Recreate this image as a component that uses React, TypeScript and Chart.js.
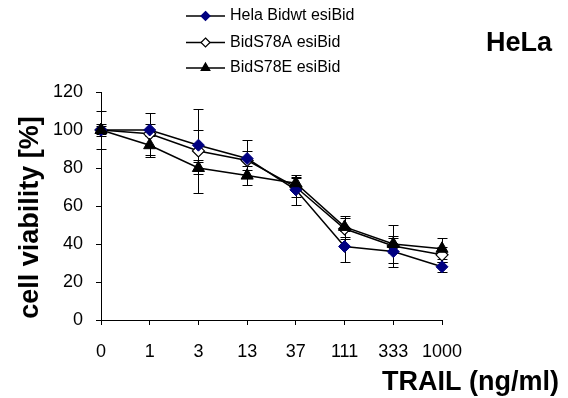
import React, { useEffect, useRef } from "react";
import { Chart, registerables } from "chart.js";

Chart.register(...registerables);

const categories = ["0", "1", "3", "13", "37", "111", "333", "1000"];
const helaMean = [100, 100, 92, 85, 68.5, 38.7, 36, 28];
const helaErr = [10, 3, 8, 9.5, 8, 8, 8, 2.5];
const s78aMean = [100, 98, 89, 84, 70, 48, 39, 34.3];
const s78aErr = [3, 11, 22, 5, 5, 5.5, 4, 4];
const s78eMean = [100, 92, 80, 76, 72, 49, 40, 37.5];
const s78eErr = [2, 6, 3, 5, 3.5, 5.5, 10, 5.5];
const seriesNames = ["Hela Bidwt esiBid", "BidS78A esiBid", "BidS78E esiBid"];
const yTicks = [0, 20, 40, 60, 80, 100, 120];

const FONT = "'Liberation Sans', Arial, Helvetica, sans-serif";

function drawMarker(ctx: CanvasRenderingContext2D, style: string, x: number, y: number, r: number, fill: string, stroke: string) {
  ctx.save();
  ctx.beginPath();
  if (style === "diamond") {
    ctx.moveTo(x, y - r);
    ctx.lineTo(x + r, y);
    ctx.lineTo(x, y + r);
    ctx.lineTo(x - r, y);
    ctx.closePath();
  } else {
    ctx.moveTo(x, y - r);
    ctx.lineTo(x + r * 0.866, y + r * 0.5);
    ctx.lineTo(x - r * 0.866, y + r * 0.5);
    ctx.closePath();
  }
  ctx.fillStyle = fill;
  ctx.fill();
  ctx.lineWidth = 1.2;
  ctx.strokeStyle = stroke;
  ctx.stroke();
  ctx.restore();
}

const errorBarPlugin = {
  id: "errorBars",
  beforeDatasetsDraw(chart: any) {
    const ctx = chart.ctx;
    const yScale = chart.scales.y;
    const means = [helaMean, s78aMean, s78eMean];
    const errs = [helaErr, s78aErr, s78eErr];
    ctx.save();
    ctx.strokeStyle = "#000";
    ctx.lineWidth = 1;
    means.forEach((m, i) => {
      const meta = chart.getDatasetMeta(i);
      meta.data.forEach((pt: any, j: number) => {
        const x = Math.round(pt.x) + 0.5;
        const yTop = Math.round(yScale.getPixelForValue(m[j] + errs[i][j])) + 0.5;
        const yBot = Math.round(yScale.getPixelForValue(m[j] - errs[i][j])) + 0.5;
        ctx.beginPath();
        ctx.moveTo(x, yTop);
        ctx.lineTo(x, yBot);
        ctx.moveTo(x - 5, yTop);
        ctx.lineTo(x + 5, yTop);
        ctx.moveTo(x - 5, yBot);
        ctx.lineTo(x + 5, yBot);
        ctx.stroke();
      });
    });
    ctx.restore();
  },
};

const decorPlugin = {
  id: "decor",
  afterDraw(chart: any) {
    const ctx = chart.ctx;
    ctx.save();
    const rows = [16, 42.5, 68];
    const styles = [
      { s: "diamond", fill: "#000080", stroke: "#000080", r: 4.5 },
      { s: "diamond", fill: "#ffffff", stroke: "#000000", r: 4.5 },
      { s: "triangle", fill: "#000000", stroke: "#000000", r: 5 },
    ];
    rows.forEach((y, i) => {
      ctx.strokeStyle = "#000";
      ctx.lineWidth = 1.5;
      ctx.beginPath();
      ctx.moveTo(186, y);
      ctx.lineTo(225, y);
      ctx.stroke();
      drawMarker(ctx, styles[i].s, 205.5, y, styles[i].r, styles[i].fill, styles[i].stroke);
      ctx.fillStyle = "#000";
      ctx.font = `16px ${FONT}`;
      ctx.textAlign = "left";
      ctx.textBaseline = "middle";
      ctx.fillText(seriesNames[i], 230, y);
    });
    ctx.font = `bold 27px ${FONT}`;
    ctx.textAlign = "left";
    ctx.textBaseline = "alphabetic";
    ctx.fillText("HeLa", 486, 51);
    ctx.textAlign = "right";
    ctx.fillText("TRAIL (ng/ml)", 559, 390);
    ctx.translate(37.5, 217.5);
    ctx.rotate(-Math.PI / 2);
    ctx.textAlign = "center";
    ctx.fillText("cell viability [%]", 0, 0);
    ctx.restore();
  },
};

export default function App() {
  const ref = useRef<HTMLCanvasElement | null>(null);
  useEffect(() => {
    if (!ref.current) return;
    const chart = new Chart(ref.current, {
      type: "line",
      data: {
        labels: categories,
        datasets: [
          {
            label: seriesNames[0],
            data: helaMean,
            order: 1,
            borderColor: "#000",
            borderWidth: 1.5,
            pointStyle: "rectRot",
            pointRadius: 6,
            pointBackgroundColor: "#000080",
            pointBorderColor: "#000080",
            pointBorderWidth: 1,
            tension: 0,
          },
          {
            label: seriesNames[1],
            data: s78aMean,
            order: 2,
            borderColor: "#000",
            borderWidth: 1.5,
            pointStyle: "rectRot",
            pointRadius: 6,
            pointBackgroundColor: "#fff",
            pointBorderColor: "#000",
            pointBorderWidth: 1.2,
            tension: 0,
          },
          {
            label: seriesNames[2],
            data: s78eMean,
            order: 0,
            borderColor: "#000",
            borderWidth: 1.5,
            pointStyle: "triangle",
            pointRadius: 7,
            pointBackgroundColor: "#000",
            pointBorderColor: "#000",
            pointBorderWidth: 1,
            tension: 0,
          },
        ],
      },
      options: {
        animation: false,
        responsive: true,
        maintainAspectRatio: false,
        layout: { padding: { left: 0, right: 126, top: 92, bottom: 38 } },
        plugins: { legend: { display: false }, tooltip: { enabled: false }, title: { display: false } },
        scales: {
          x: {
            type: "category",
            offset: false,
            afterFit: (s: any) => {
              s.height = 40;
            },
            grid: { drawOnChartArea: false, drawTicks: true, tickLength: 5, color: "#000", lineWidth: 1 },
            border: { display: true, color: "#000", width: 1 },
            ticks: { color: "#000", font: { family: FONT, size: 18 }, padding: 16, maxRotation: 0, autoSkip: false },
          },
          y: {
            min: 0,
            max: 120,
            afterFit: (s: any) => {
              s.width = 101;
            },
            afterBuildTicks: (s: any) => {
              s.ticks = yTicks.map((v) => ({ value: v }));
            },
            grid: { drawOnChartArea: false, drawTicks: true, tickLength: 5, color: "#000", lineWidth: 1 },
            border: { display: true, color: "#000", width: 1 },
            ticks: { color: "#000", font: { family: FONT, size: 18 }, padding: 13 },
          },
        },
      },
      plugins: [errorBarPlugin, decorPlugin],
    });
    return () => chart.destroy();
  }, []);
  return (
    <div style={{ position: "fixed", left: 0, top: 0, width: 568, height: 398, background: "#fff" }}>
      <canvas ref={ref} />
    </div>
  );
}
